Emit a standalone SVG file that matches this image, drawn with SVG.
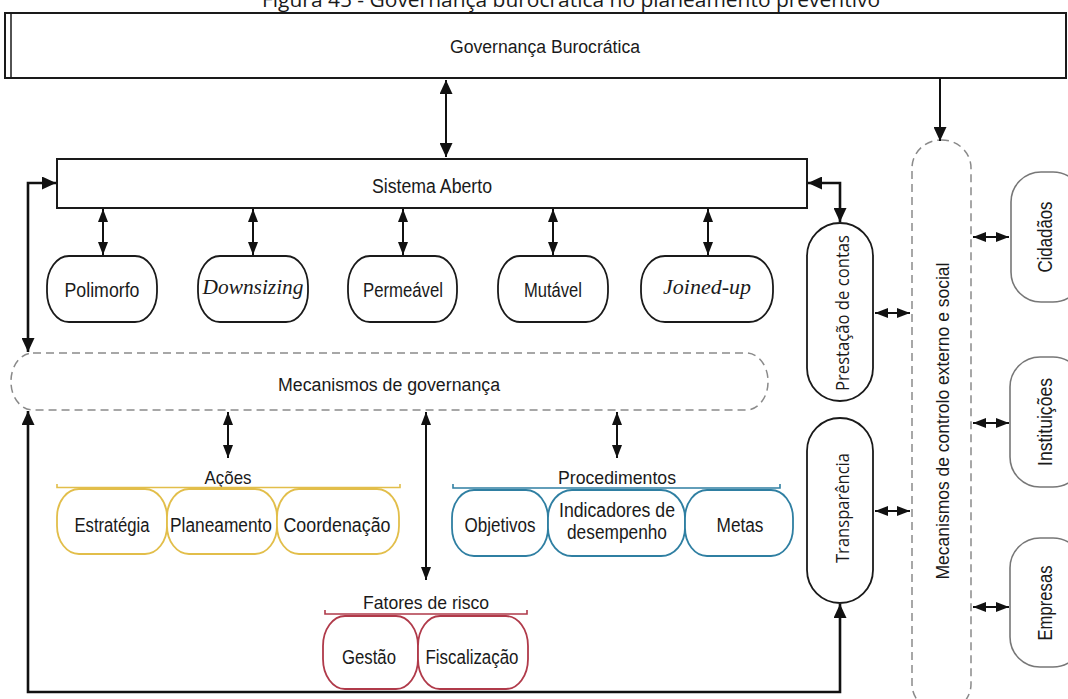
<svg xmlns="http://www.w3.org/2000/svg" width="1068" height="699" viewBox="0 0 1068 699">
  <defs>
    <marker id="ah" viewBox="0 0 14 13" refX="14" refY="6.5" markerWidth="14" markerHeight="13" markerUnits="userSpaceOnUse" orient="auto-start-reverse">
      <path d="M0,0 L14,6.5 L0,13 z" fill="#111"/>
    </marker>
    <marker id="ahs" viewBox="0 0 13 10" refX="13" refY="5" markerWidth="13" markerHeight="10" markerUnits="userSpaceOnUse" orient="auto-start-reverse">
      <path d="M0,0 L13,5 L0,10 z" fill="#111"/>
    </marker>
    <style>
      .box { fill: #fff; stroke: #1a1a1a; stroke-width: 2; }
      .pill { fill: #fff; stroke: #1a1a1a; stroke-width: 1.8; }
      .dash { fill: none; stroke: #8a8a8a; stroke-width: 1.5; stroke-dasharray: 8 5; }
      .grey { fill: #fff; stroke: #777; stroke-width: 1.6; }
      .yel { fill: #fff; stroke: #E2BE4A; stroke-width: 1.8; }
      .blu { fill: #fff; stroke: #2F7FA2; stroke-width: 1.8; }
      .red { fill: #fff; stroke: #B03A4A; stroke-width: 1.8; }
      .n { font-family: "Liberation Sans Narrow", "Liberation Sans", Arial, sans-serif; fill: #1a1a1a; text-anchor: middle; }
      .s { font-family: "Liberation Sans", Arial, sans-serif; fill: #1a1a1a; text-anchor: middle; }
      .o { font-family: "Open Sans", "Noto Sans", sans-serif; fill: #1a1a1a; text-anchor: middle; }
      .it { font-family: "Liberation Serif", "Times New Roman", serif; font-style: italic; fill: #1a1a1a; text-anchor: middle; }
      .ln { fill: none; stroke: #111; stroke-width: 2; }
      .lt { fill: none; stroke: #111; stroke-width: 2.6; }
    </style>
  </defs>
  <rect width="1068" height="699" fill="#fff"/>

  <!-- caption, partly above the top edge of the page -->
  <text class="o" x="571" y="7" font-size="20" textLength="618" lengthAdjust="spacingAndGlyphs">Figura 45 - Governança burocrática no planeamento preventivo</text>

  <g id="governanca-burocratica">
    <rect class="box" x="5" y="13" width="1061" height="65"/>
    <line x1="11" y1="13" x2="11" y2="78" stroke="#1a1a1a" stroke-width="1.5"/>
    <text class="n" x="545" y="53" font-size="18" textLength="190" lengthAdjust="spacingAndGlyphs">Governança Burocrática</text>
  </g>

  <g id="sistema-aberto">
    <rect class="box" x="57" y="159" width="750" height="49"/>
    <text class="n" x="432" y="193" font-size="20" textLength="120" lengthAdjust="spacingAndGlyphs">Sistema Aberto</text>
  </g>

  <g id="polimorfo">
    <rect class="pill" x="47" y="256" width="110" height="66" rx="22" ry="30"/>
    <text class="n" x="102" y="297" font-size="20" textLength="75" lengthAdjust="spacingAndGlyphs">Polimorfo</text>
  </g>
  <g id="downsizing">
    <rect class="pill" x="198" y="256" width="110" height="66" rx="22" ry="30"/>
    <text class="it" x="253" y="294" font-size="21" textLength="101" lengthAdjust="spacingAndGlyphs">Downsizing</text>
  </g>
  <g id="permeavel">
    <rect class="pill" x="348" y="256" width="109" height="66" rx="22" ry="30"/>
    <text class="n" x="403" y="297" font-size="20" textLength="80" lengthAdjust="spacingAndGlyphs">Permeável</text>
  </g>
  <g id="mutavel">
    <rect class="pill" x="498" y="256" width="110" height="66" rx="22" ry="30"/>
    <text class="n" x="553" y="297" font-size="20" textLength="58" lengthAdjust="spacingAndGlyphs">Mutável</text>
  </g>
  <g id="joined-up">
    <rect class="pill" x="641" y="256" width="132" height="66" rx="24" ry="30"/>
    <text class="it" x="707" y="294" font-size="21" textLength="88" lengthAdjust="spacingAndGlyphs">Joined-up</text>
  </g>

  <g id="mecanismos-governanca">
    <rect class="dash" x="11" y="353" width="757" height="57" rx="22" ry="28"/>
    <text class="s" x="389" y="391" font-size="18" textLength="222" lengthAdjust="spacingAndGlyphs">Mecanismos de governança</text>
  </g>

  <g id="acoes">
    <text class="n" x="228" y="484" font-size="19" textLength="47" lengthAdjust="spacingAndGlyphs">Ações</text>
    <path d="M57,484 V487.5 H400 V484" fill="none" stroke="#E2BE4A" stroke-width="1.6"/>
    <rect class="yel" x="57" y="489" width="110" height="65" rx="22" ry="28"/>
    <rect class="yel" x="167" y="489" width="110" height="65" rx="22" ry="28"/>
    <rect class="yel" x="277" y="489" width="122" height="65" rx="22" ry="28"/>
    <text class="n" x="112" y="532" font-size="19.5" textLength="75" lengthAdjust="spacingAndGlyphs">Estratégia</text>
    <text class="n" x="221" y="532" font-size="19.5" textLength="102" lengthAdjust="spacingAndGlyphs">Planeamento</text>
    <text class="n" x="337" y="532" font-size="19.5" textLength="107" lengthAdjust="spacingAndGlyphs">Coordenação</text>
  </g>

  <g id="procedimentos">
    <text class="n" x="617" y="484" font-size="19" textLength="118" lengthAdjust="spacingAndGlyphs">Procedimentos</text>
    <path d="M453,484 V488 H780 V484" fill="none" stroke="#2F7FA2" stroke-width="1.6"/>
    <rect class="blu" x="452" y="490" width="96" height="66" rx="22" ry="28"/>
    <rect class="blu" x="548" y="490" width="137" height="66" rx="24" ry="28"/>
    <rect class="blu" x="685" y="490" width="108" height="66" rx="22" ry="28"/>
    <text class="n" x="500" y="532" font-size="19.5" textLength="71" lengthAdjust="spacingAndGlyphs">Objetivos</text>
    <text class="n" x="617" y="517" font-size="19.5" textLength="116" lengthAdjust="spacingAndGlyphs">Indicadores de</text>
    <text class="n" x="617" y="539" font-size="19.5" textLength="100" lengthAdjust="spacingAndGlyphs">desempenho</text>
    <text class="n" x="740" y="532" font-size="19.5" textLength="47" lengthAdjust="spacingAndGlyphs">Metas</text>
  </g>

  <g id="fatores-de-risco">
    <text class="n" x="426" y="609" font-size="19" textLength="126" lengthAdjust="spacingAndGlyphs">Fatores de risco</text>
    <path d="M325,610 V614 H527 V610" fill="none" stroke="#B03A4A" stroke-width="1.6"/>
    <rect class="red" x="323" y="616" width="95" height="73" rx="22" ry="30"/>
    <rect class="red" x="418" y="616" width="110" height="73" rx="22" ry="30"/>
    <text class="n" x="369" y="664" font-size="19.5" textLength="54" lengthAdjust="spacingAndGlyphs">Gestão</text>
    <text class="n" x="472" y="664" font-size="19.5" textLength="93" lengthAdjust="spacingAndGlyphs">Fiscalização</text>
  </g>

  <g id="prestacao-de-contas">
    <rect class="pill" x="807" y="223" width="66" height="178" rx="33" ry="33"/>
    <text class="o" transform="translate(842,313) rotate(-90)" y="7" font-size="19" textLength="156" lengthAdjust="spacingAndGlyphs">Prestação de contas</text>
  </g>
  <g id="transparencia">
    <rect class="pill" x="807" y="418" width="66" height="185" rx="33" ry="33"/>
    <text class="o" transform="translate(842,508) rotate(-90)" y="7" font-size="19" textLength="110" lengthAdjust="spacingAndGlyphs">Transparência</text>
  </g>

  <g id="mecanismos-controlo">
    <rect class="dash" x="912" y="140" width="59" height="572" rx="29" ry="28"/>
    <text class="s" transform="translate(943,421) rotate(-90)" y="6" font-size="18" textLength="317" lengthAdjust="spacingAndGlyphs">Mecanismos de controlo externo e social</text>
  </g>

  <g id="cidadaos">
    <rect class="grey" x="1011" y="172" width="72" height="130" rx="30" ry="30"/>
    <text class="n" transform="translate(1045,237) rotate(-90)" y="7" font-size="19.5" textLength="71" lengthAdjust="spacingAndGlyphs">Cidadãos</text>
  </g>
  <g id="instituicoes">
    <rect class="grey" x="1010" y="357" width="73" height="130" rx="30" ry="30"/>
    <text class="n" transform="translate(1045,422) rotate(-90)" y="7" font-size="19.5" textLength="88" lengthAdjust="spacingAndGlyphs">Instituições</text>
  </g>
  <g id="empresas">
    <rect class="grey" x="1010" y="538" width="73" height="129" rx="30" ry="30"/>
    <text class="n" transform="translate(1045,603) rotate(-90)" y="7" font-size="19.5" textLength="75" lengthAdjust="spacingAndGlyphs">Empresas</text>
  </g>

  <g id="connectors">
    <line class="ln" x1="446" y1="80" x2="446" y2="157" marker-start="url(#ah)" marker-end="url(#ah)"/>
    <line class="ln" x1="940" y1="78" x2="940" y2="141" marker-end="url(#ah)"/>

    <line class="ln" x1="103" y1="209" x2="103" y2="255" marker-start="url(#ahs)" marker-end="url(#ahs)"/>
    <line class="ln" x1="253" y1="209" x2="253" y2="255" marker-start="url(#ahs)" marker-end="url(#ahs)"/>
    <line class="ln" x1="403" y1="209" x2="403" y2="255" marker-start="url(#ahs)" marker-end="url(#ahs)"/>
    <line class="ln" x1="553" y1="209" x2="553" y2="255" marker-start="url(#ahs)" marker-end="url(#ahs)"/>
    <line class="ln" x1="708" y1="209" x2="708" y2="255" marker-start="url(#ahs)" marker-end="url(#ahs)"/>

    <path class="lt" d="M56,183 H28 V352" marker-start="url(#ah)" marker-end="url(#ah)"/>
    <path class="lt" d="M28,411 V692 H840 V604" marker-start="url(#ah)" marker-end="url(#ah)"/>
    <path class="lt" d="M808,183 H840 V222" marker-start="url(#ah)" marker-end="url(#ah)"/>

    <line class="ln" x1="228" y1="412" x2="228" y2="458" marker-start="url(#ahs)" marker-end="url(#ahs)"/>
    <line class="ln" x1="426" y1="412" x2="426" y2="580" marker-start="url(#ahs)" marker-end="url(#ahs)"/>
    <line class="ln" x1="617" y1="412" x2="617" y2="458" marker-start="url(#ahs)" marker-end="url(#ahs)"/>

    <line class="ln" x1="875" y1="313" x2="910" y2="313" marker-start="url(#ahs)" marker-end="url(#ahs)"/>
    <line class="ln" x1="875" y1="511" x2="910" y2="511" marker-start="url(#ahs)" marker-end="url(#ahs)"/>

    <line class="ln" x1="973" y1="237" x2="1009" y2="237" marker-start="url(#ahs)" marker-end="url(#ahs)"/>
    <line class="ln" x1="973" y1="423" x2="1009" y2="423" marker-start="url(#ahs)" marker-end="url(#ahs)"/>
    <line class="ln" x1="973" y1="607" x2="1009" y2="607" marker-start="url(#ahs)" marker-end="url(#ahs)"/>
  </g>
</svg>
